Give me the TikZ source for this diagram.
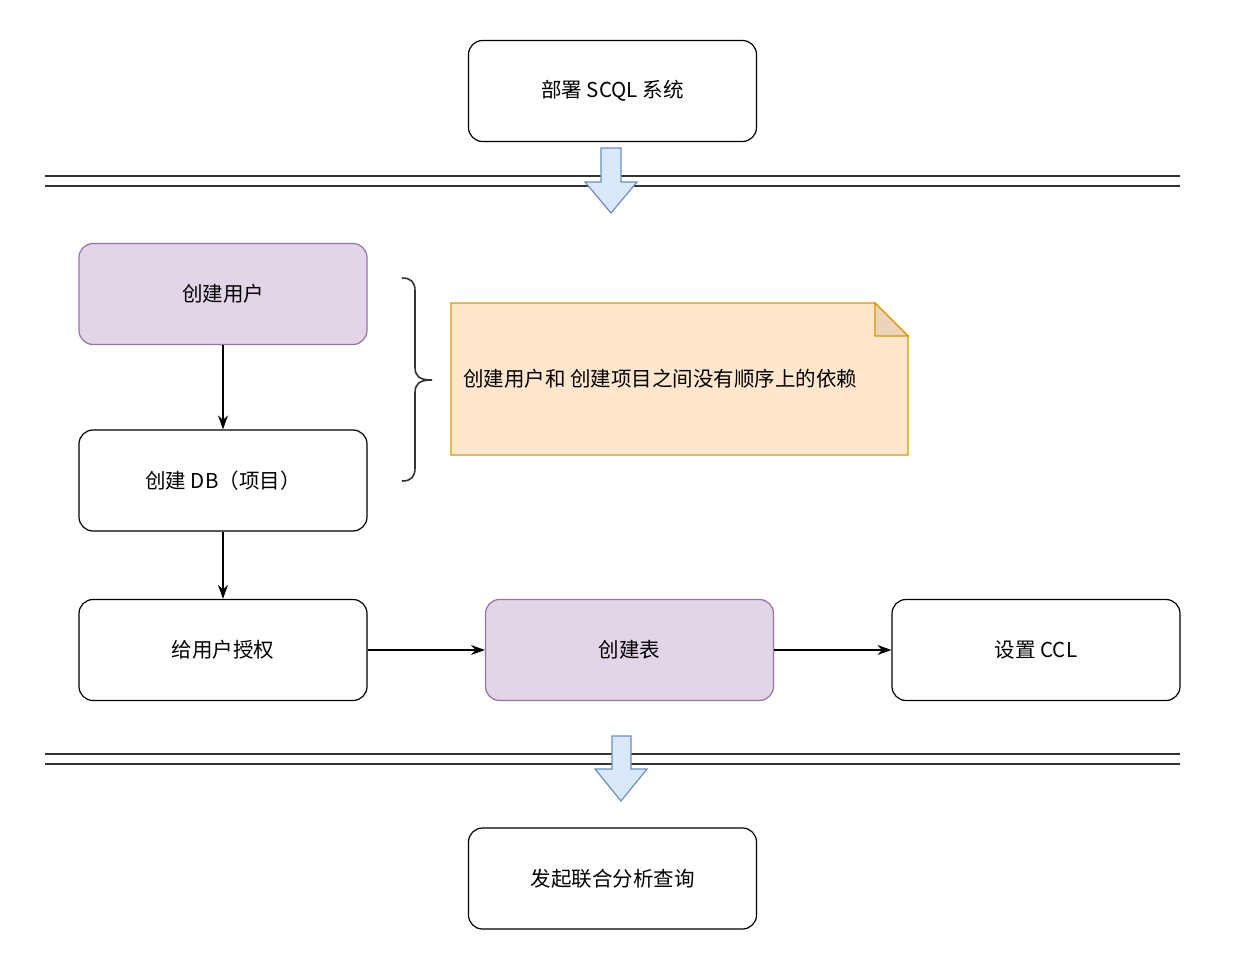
\documentclass[tikz,border=0pt]{standalone}
\usepackage{fontspec}
\setmainfont{Noto Sans CJK SC}
\usetikzlibrary{arrows.meta}
\definecolor{purplefill}{HTML}{E1D5E7}
\definecolor{purpleline}{HTML}{9673A6}
\definecolor{notefill}{HTML}{FFE6CC}
\definecolor{noteline}{HTML}{D79B00}
\definecolor{foldfill}{HTML}{EBD3BC}
\definecolor{arrfill}{HTML}{DAE8FC}
\definecolor{arrline}{HTML}{6C8EBF}
\tikzset{
  box/.style={draw=black, line width=1.2pt, rounded corners=14pt, minimum width=288pt, minimum height=101pt, fill=white, font=\fontsize{20.5}{24}\selectfont, inner sep=0pt},
  pbox/.style={box, fill=purplefill, draw=purpleline},
  conn/.style={-{Stealth[length=14pt,width=10pt]}, line width=1.3pt},
  sep/.style={line width=1.4pt, draw=black!80},
  blockarrow/.style={fill=arrfill, draw=arrline, line width=1.2pt, line join=miter},
}
\begin{document}
\begin{tikzpicture}[x=1pt,y=-1pt]
\useasboundingbox (0,0) rectangle (1242,968);
% separators
\draw[sep] (45,176) -- (1180,176);
\draw[sep] (45,186) -- (1180,186);
\draw[sep] (45,754) -- (1180,754);
\draw[sep] (45,764) -- (1180,764);
% nodes
\node[box] (deploy) at (612.5,91) {部署 SCQL 系统};
\node[pbox] (user) at (223,294) {创建用户};
\node[box] (db) at (223,480.5) {创建 DB（项目）};
\node[box] (grant) at (223,650) {给用户授权};
\node[pbox] (table) at (629.5,650) {创建表};
\node[box] (ccl) at (1036,650) {设置 CCL};
\node[box] (query) at (612.5,878.5) {发起联合分析查询};
% block arrows
\draw[blockarrow] (601,148) -- (621,148) -- (621,182) -- (637,182) -- (611,213) -- (585,182) -- (601,182) -- cycle;
\draw[blockarrow] (612,736) -- (631,736) -- (631,769) -- (647,769) -- (621,801) -- (595,769) -- (612,769) -- cycle;
% connectors
\draw[conn] (user) -- (db);
\draw[conn] (db) -- (grant);
\draw[conn] (grant) -- (table);
\draw[conn] (table) -- (ccl);
% brace
\draw[line width=1.6pt, draw=black!80] (402,278) .. controls (411,278) and (415,282) .. (415,291) -- (415,367) .. controls (415,376) and (419,380) .. (432,380) .. controls (419,380) and (415,384) .. (415,393) -- (415,468) .. controls (415,477) and (411,481) .. (402,481);
% note
\draw[fill=notefill, draw=noteline, line width=1.3pt, line join=miter] (451,303) -- (875,303) -- (908,336) -- (908,455) -- (451,455) -- cycle;
\draw[fill=foldfill, draw=noteline, line width=1.3pt, line join=miter] (875,303) -- (875,336) -- (908,336) -- cycle;
\node[anchor=west, font=\fontsize{20.5}{24}\selectfont, inner sep=0pt] (notetext) at (463,379) {创建用户和 创建项目之间没有顺序上的依赖};
\end{tikzpicture}
\end{document}
